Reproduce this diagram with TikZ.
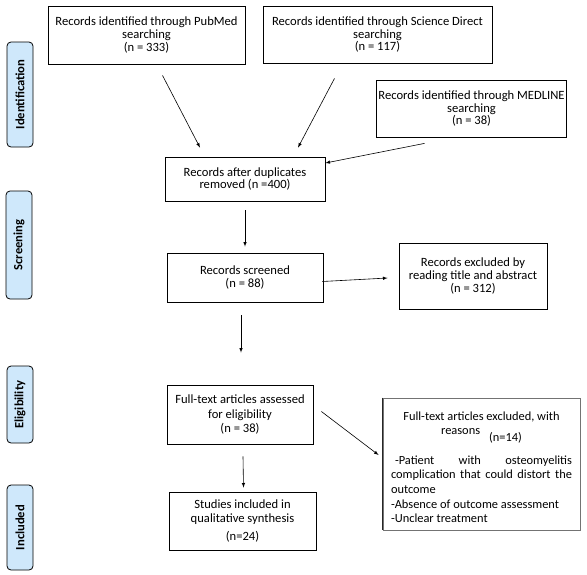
\documentclass[tikz,border=0pt]{standalone}
\usepackage{fontspec}
\setmainfont{Carlito}
\definecolor{phase}{HTML}{CFE8FB}
\hyphenpenalty=10000
\exhyphenpenalty=10000

\tikzset{
  box/.style = {draw, thick, align=center, inner sep=2pt, font=\fontsize{12.6}{12.6}\selectfont,
    execute at begin node={\rule{0pt}{15pt}}},
  phasebox/.style = {draw, thick, fill=phase, rounded corners=4pt, minimum height=26, rotate=90, font=\fontsize{12.6}{13}\selectfont\bfseries},
  arr/.style = {-latex, semithick}
}

\begin{document}
\begin{tikzpicture}[x=1pt, y=-1pt]
      \useasboundingbox (0,0) rectangle (587,574);

      % phases on the left
      \node[phasebox, minimum width=105] (ident) at (20,94.5) {Identification};
      \node[phasebox, minimum width=108] (screen) at (19,245) {Screening};
      \node[phasebox, minimum width=77] (elig) at (20,404.5) {Eligibility};
      \node[phasebox, minimum width=85] (incl) at (20,527.5) {Included};

      % sources
      \node[box, minimum width=197, minimum height=58] (pubmed) at (146.5,35) {Records identified through PubMed\\ searching\\ (n = 333)};
      \node[box, minimum width=229, minimum height=57] (scidir) at (377.5,34.5) {Records identified through Science Direct\\ searching\\ (n = 117)};
      \node[box, minimum width=189, minimum height=57] (medline) at (471.5,108.5) {Records identified through MEDLINE\\ searching\\ (n = 38)};

      % main flow
      \node[box, minimum width=160, minimum height=44] (dup) at (245,179) {Records after duplicates\\ removed (n =400)};
      \node[box, minimum width=156, minimum height=49] (scr) at (245,277.5) {Records screened\\ (n = 88)};
      \node[box, minimum width=148, minimum height=66] (excl) at (473,276) {Records excluded by\\ reading title and abstract\\ (n = 312)};
      \node[box, minimum width=146, minimum height=59] (full) at (240,414.5) {Full-text articles assessed\\[2pt] for eligibility\\[2pt] (n = 38)};
      \node[box, minimum width=147, minimum height=58] (studies) at (242.5,521) {Studies included in\\[1.5pt] qualitative synthesis\\[6pt] (n=24)};

      % reasons box
      \node[box, draw=black!55, minimum width=197, minimum height=132, text width=181, align=justify, font=\fontsize{12.4}{14.7}\selectfont,
        execute at begin node={}] (fexcl) at (481.5,464)
        {{\centering Full-text articles excluded, with\\ reasons\hspace{9pt}\raisebox{-7pt}{(n=14)}\par}
        \vspace{11pt}
        \hspace*{4pt}-Patient with osteomyelitis\linebreak
        complication that could distort the\linebreak
        outcome\\
        -Absence of outcome assessment\\
        -Unclear treatment\par};
      \draw[thick, black!85] (fexcl.north west) -- (fexcl.south west);

      \draw[arr] ([shift={(16,11)}]pubmed.south) -- ([shift={(-45,-9)}]dup.north);
      \draw[arr] ([shift={(-43,15)}]scidir.south) -- ([shift={(53,-9)}]dup.north);
      \draw[arr] ([shift={(-47,6)}]medline.south) -- ([shift={(0,-16)}]dup.east);
      \draw[arr] ([shift={(0,9)}]dup.south) -- ([shift={(0,-6)}]scr.north);
      \draw[arr] ([shift={(-1,4)}]scr.east) -- ([shift={(-11,2)}]excl.west);
      \draw[arr] ([shift={(-4,13)}]scr.south) -- ([shift={(1,-32)}]full.north);
      \draw[arr] ([shift={(3,12)}]full.south) -- ([shift={(1,-4)}]studies.north);
      \draw[arr] ([shift={(8,-3)}]full.east) -- ([shift={(-4,-9)}]fexcl.west);
\end{tikzpicture}
\end{document}
